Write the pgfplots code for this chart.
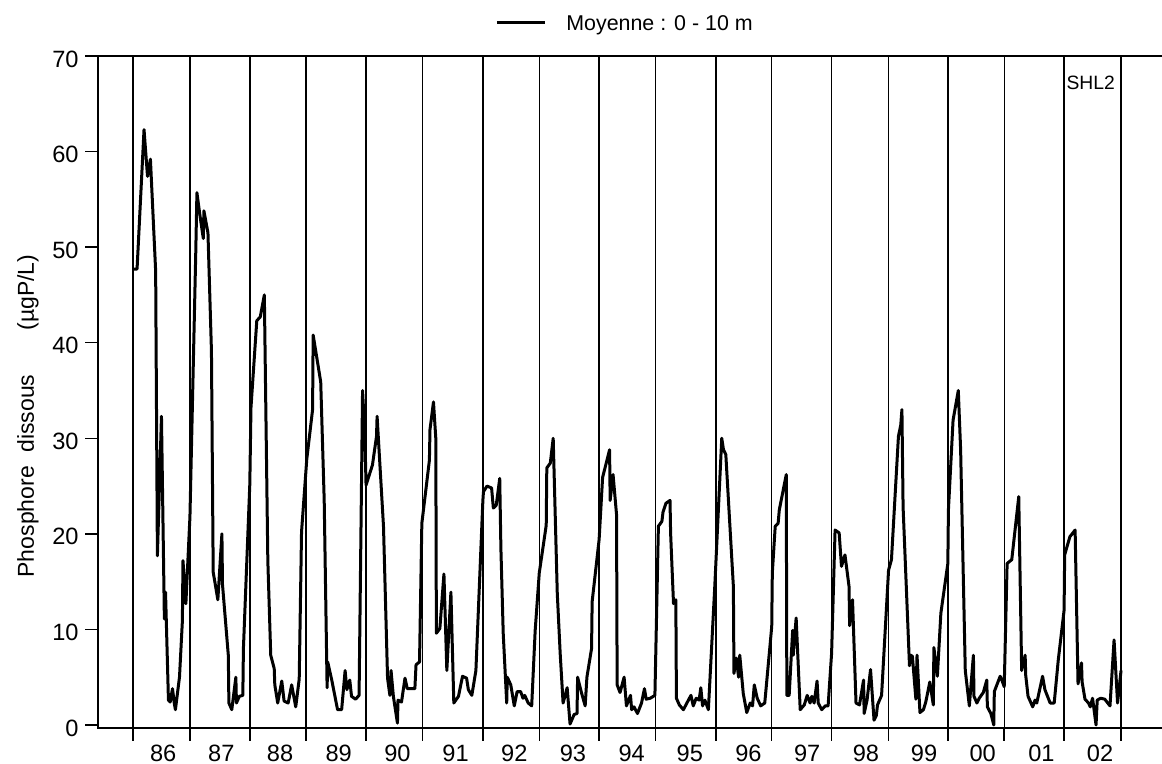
\documentclass[border=0pt]{standalone}
\usepackage{fontspec}
\setmainfont{Liberation Sans}
\usepackage{pgfplots}
\usepackage{pgfplotstable}
\pgfplotsset{compat=1.18}

\pgfplotstableread{
t v
1986.00 47.7
1986.07 47.7
1986.19 62.3
1986.25 57.4
1986.30 59.2
1986.39 47.5
1986.42 17.7
1986.49 32.3
1986.54 11.1
1986.56 13.9
1986.61 2.6
1986.64 2.4
1986.68 3.8
1986.71 2.3
1986.73 1.6
1986.80 5.0
1986.85 10.9
1986.86 17.2
1986.91 12.7
1986.98 21.8
1987.08 49.4
1987.10 55.7
1987.15 53.4
1987.21 50.9
1987.22 53.8
1987.29 51.5
1987.35 39.1
1987.38 16.0
1987.46 13.1
1987.53 20.0
1987.54 14.7
1987.64 7.3
1987.65 2.3
1987.70 1.6
1987.77 5.0
1987.78 2.3
1987.83 3.0
1987.89 3.1
1987.90 8.0
1988.01 25.2
1988.03 33.2
1988.13 42.3
1988.19 42.7
1988.26 45.0
1988.32 17.2
1988.37 7.3
1988.43 5.9
1988.44 4.2
1988.49 2.3
1988.56 4.6
1988.60 2.5
1988.67 2.3
1988.73 4.2
1988.80 1.9
1988.86 4.8
1988.90 20.2
1988.99 27.8
1989.09 33.0
1989.10 40.8
1989.23 35.9
1989.29 23.5
1989.34 3.9
1989.35 6.6
1989.42 4.7
1989.52 1.6
1989.59 1.6
1989.65 5.7
1989.68 3.7
1989.73 4.7
1989.76 3.0
1989.83 2.7
1989.89 3.1
1989.95 35.0
1989.99 30.2
1990.01 25.1
1990.12 27.2
1990.19 30.2
1990.20 32.3
1990.31 20.8
1990.38 4.9
1990.42 3.1
1990.44 5.7
1990.48 3.0
1990.55 0.2
1990.56 2.6
1990.62 2.4
1990.68 4.9
1990.72 3.8
1990.85 3.8
1990.87 6.3
1990.93 6.6
1990.97 21.1
1991.10 27.7
1991.11 30.9
1991.17 33.8
1991.21 30.0
1991.22 9.6
1991.28 10.1
1991.35 15.8
1991.40 5.7
1991.47 13.9
1991.52 2.3
1991.60 3.0
1991.67 5.1
1991.74 4.9
1991.77 3.7
1991.83 3.1
1991.90 5.7
1992.02 23.5
1992.03 24.4
1992.09 25.0
1992.17 24.8
1992.20 22.7
1992.25 23.0
1992.31 25.8
1992.33 18.5
1992.37 9.6
1992.43 2.3
1992.44 5.0
1992.50 4.2
1992.56 2.0
1992.61 3.5
1992.67 3.5
1992.71 2.8
1992.74 3.1
1992.80 2.3
1992.86 2.0
1992.92 9.9
1992.99 15.9
1993.11 20.9
1993.12 26.9
1993.18 27.4
1993.23 30.0
1993.30 13.8
1993.35 7.5
1993.40 2.3
1993.47 3.9
1993.52 0.1
1993.59 1.1
1993.64 1.2
1993.65 5.0
1993.72 3.3
1993.78 2.0
1993.81 5.0
1993.89 8.0
1993.90 12.9
1994.02 19.4
1994.08 25.9
1994.20 28.8
1994.21 23.5
1994.26 26.2
1994.32 22.0
1994.33 4.2
1994.38 3.4
1994.45 5.0
1994.49 2.0
1994.56 3.1
1994.58 1.6
1994.62 1.9
1994.68 1.2
1994.75 2.3
1994.80 3.8
1994.83 2.7
1994.90 2.8
1994.98 3.1
1995.04 20.8
1995.10 21.3
1995.12 22.3
1995.17 23.2
1995.24 23.5
1995.25 20.1
1995.30 12.7
1995.34 13.1
1995.35 2.8
1995.40 2.1
1995.47 1.6
1995.53 2.3
1995.60 3.1
1995.64 2.0
1995.69 2.8
1995.74 2.6
1995.77 3.9
1995.80 2.0
1995.84 2.6
1995.90 1.6
1996.01 14.5
1996.13 30.0
1996.16 28.8
1996.20 28.3
1996.33 14.5
1996.34 5.4
1996.38 7.0
1996.42 5.0
1996.44 7.3
1996.50 3.3
1996.56 1.3
1996.62 2.3
1996.66 2.0
1996.69 4.2
1996.74 2.8
1996.80 2.0
1996.87 2.3
1996.99 10.3
1997.00 15.9
1997.05 20.8
1997.10 21.1
1997.12 22.5
1997.24 26.2
1997.25 3.1
1997.29 3.1
1997.35 9.9
1997.36 7.3
1997.41 11.2
1997.48 1.6
1997.55 2.1
1997.60 3.1
1997.65 2.3
1997.68 3.0
1997.72 2.3
1997.77 4.6
1997.79 2.3
1997.85 1.6
1997.91 2.0
1997.96 2.0
1998.02 7.5
1998.08 20.4
1998.15 20.1
1998.19 16.6
1998.25 17.8
1998.32 14.5
1998.33 10.4
1998.38 13.1
1998.44 2.3
1998.50 2.1
1998.57 4.7
1998.58 1.2
1998.63 2.6
1998.69 5.8
1998.75 0.5
1998.79 1.0
1998.81 2.1
1998.88 3.1
1999.00 16.2
1999.05 17.3
1999.17 30.2
1999.21 31.4
1999.23 33.0
1999.25 22.8
1999.36 6.2
1999.38 7.3
1999.41 7.2
1999.47 2.7
1999.49 7.3
1999.54 1.3
1999.60 1.6
1999.64 2.4
1999.71 4.5
1999.77 2.1
1999.78 8.1
1999.84 5.1
1999.90 11.7
2000.02 16.9
2000.03 22.5
2000.11 31.9
2000.20 35.0
2000.24 28.8
2000.32 5.7
2000.39 2.0
2000.46 7.3
2000.47 3.0
2000.52 2.3
2000.56 2.8
2000.63 3.4
2000.69 4.7
2000.70 1.9
2000.76 1.2
2000.81 0.0
2000.82 3.5
2000.92 5.1
2000.95 4.7
2000.99 4.0
2001.04 16.9
2001.12 17.3
2001.24 23.9
2001.29 5.7
2001.35 7.3
2001.36 5.2
2001.40 3.0
2001.48 1.9
2001.52 2.6
2001.55 2.3
2001.65 5.1
2001.69 3.7
2001.78 2.3
2001.85 2.3
2001.92 6.8
2002.02 12.0
2002.03 17.8
2002.12 19.7
2002.21 20.4
2002.26 4.3
2002.32 6.5
2002.33 4.5
2002.38 2.7
2002.44 2.3
2002.47 1.9
2002.51 2.8
2002.57 0.0
2002.59 2.6
2002.65 2.8
2002.72 2.7
2002.81 2.0
2002.88 8.9
2002.94 2.3
2003.00 5.7
}\phosdata

\begin{document}
\begin{tikzpicture}
\begin{axis}[
  at={(0pt,0pt)}, anchor=south west,
  scale only axis, width=535pt, height=336pt,
  xmin=1985.398, xmax=2003.808, ymin=-0.314, ymax=70,
  axis line style={line width=0.75pt},
  tick align=outside, tick pos=left,
  major tick length=6.5pt,
  every tick/.style={black, line width=0.75pt},
  /pgf/number format/assume math mode=true,
  tick label style={font=\fontsize{11.8}{14}\selectfont},
  xtick={1986.00,1986.98,1988.01,1988.98,1990.01,1990.98,1992.02,1992.99,1994.02,1994.99,1996.03,1996.99,1998.02,1999.00,2000.02,2000.99,2002.02,2003.00},
  xticklabels={},
  xmajorgrids, grid style={black, line width=0.7pt},
  extra x ticks={1986.52,1987.52,1988.53,1989.54,1990.55,1991.55,1992.56,1993.57,1994.58,1995.58,1996.59,1997.60,1998.61,1999.61,2000.62,2001.63,2002.64},
  extra x tick labels={86,87,88,89,90,91,92,93,94,95,96,97,98,99,00,01,02},
  extra x tick style={grid=none, tick style={draw=none}},
  xticklabel style={anchor=north, inner sep=0pt, yshift=-2pt},
  ytick={0,10,20,30,40,50,60,70},
  yticklabel style={anchor=east, inner sep=0pt, xshift=-3pt, yshift=-1.5pt},
  legend style={draw=none, fill=none, inner sep=0pt, at={(0.3710,1.0496)}, anchor=west,
    font=\fontsize{10.7}{13}\selectfont, nodes={inner sep=0pt, text depth=0pt}, cells={anchor=west}},
  legend image code/.code={\draw[#1] (0pt,0pt) -- (24pt,0pt); \path (34pt,0pt);},
]
\addplot[black, line width=1.5pt, line join=round] table[x=t, y=v]{\phosdata};
\addlegendentry{Moyenne : 0 - 10 m}
\node[font=\fontsize{9.65}{11}\selectfont] at (axis cs:2002.478,67.2) {SHL2};
\end{axis}
\node[rotate=90, anchor=base, inner sep=0pt, font=\fontsize{11.5}{14}\selectfont] at (-32pt,156pt)
  {Phosphore\hspace{6.8pt}dissous\hspace{22pt}(µgP/L)};
\pgfresetboundingbox
\useasboundingbox (-49pt,-18pt) rectangle (532pt,364pt);
\end{tikzpicture}
\end{document}
